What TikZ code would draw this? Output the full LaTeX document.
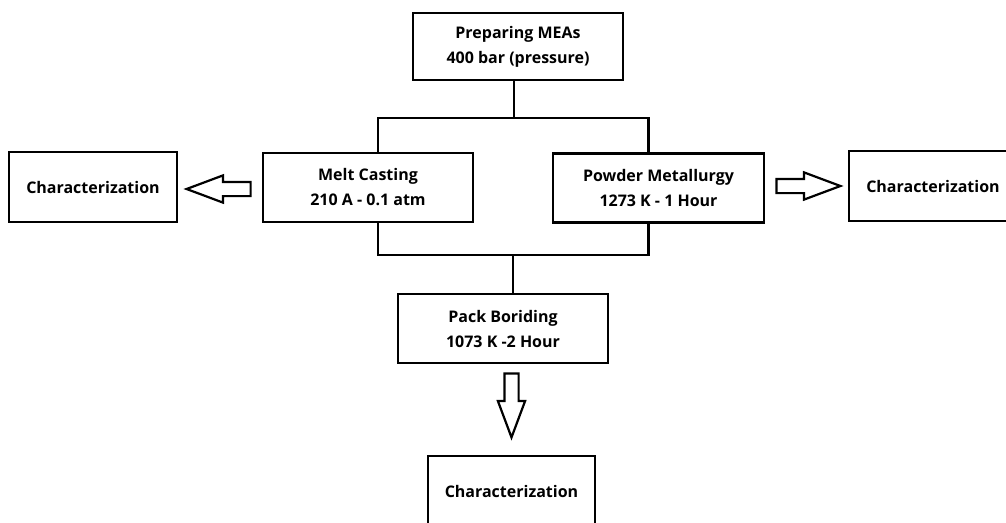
\documentclass[tikz,border=0pt]{standalone}
\usepackage{fontspec}
\setmainfont{Open Sans}
\usetikzlibrary{shapes.arrows,calc}

\begin{document}
\begin{tikzpicture}[x=1pt,y=-1pt]
        \tikzstyle{every node}=[rectangle, draw=black, line width=2.6pt, align=center, minimum width=210pt, minimum height=69pt, font=\fontsize{16}{25}\selectfont\bfseries, text=black]
        \tikzstyle{edge}=[black, line width=2.6pt]
        \tikzstyle{hollow}=[single arrow, draw=black, line width=2.2pt, fill=white, minimum width=0pt, minimum height=64pt, inner xsep=0pt, inner ysep=6pt, single arrow head extend=6.5pt, single arrow tip angle=41, anchor=tail]

        \clip (0,0) rectangle (1006,522);

        \node (prep)   at (518,46.5)   [minimum height=67pt] {Preparing MEAs\\400 bar (pressure)};
        \node (melt)   at (368,187.5)  {Melt Casting\\210 A - 0.1 atm};
        \node (powder) at (658.5,188)  [minimum width=211pt] {Powder Metallurgy\\1273 K - 1 Hour};
        \node (pack)   at (503,328.5)  {Pack Boriding\\1073 K -2 Hour};

        \node (charL)  at (93,187)     [minimum width=168pt, minimum height=70pt] {Characterization};
        \node (charR)  at (933,186)    [minimum width=168pt, minimum height=70pt] {Characterization};
        \node (charB)  at (511.5,491)  [minimum width=167pt, minimum height=70pt] {Characterization};

        \coordinate (split) at (514,118);
        \coordinate (join)  at (513,255);

        \draw[edge] (prep.south -| split) -- (split);
        \draw[edge] ([xshift=10pt]melt.north) |- (split) -| ([xshift=-10pt]powder.north);
        \draw[edge] ([xshift=10pt]melt.south) |- (join) -| ([xshift=-10pt]powder.south);
        \draw[edge] (join) -- (join |- pack.north);

        \node[hollow, rotate=180] (arrL) at ([xshift=-10pt,yshift=-1.5pt]melt.west) {};
        \node[hollow]             (arrR) at ([xshift=10pt,yshift=2pt]powder.east) {};
        \node[hollow, rotate=-90] (arrB) at ([yshift=-8pt]pack.south -| charB.north) {};
    \end{tikzpicture}
\end{document}
